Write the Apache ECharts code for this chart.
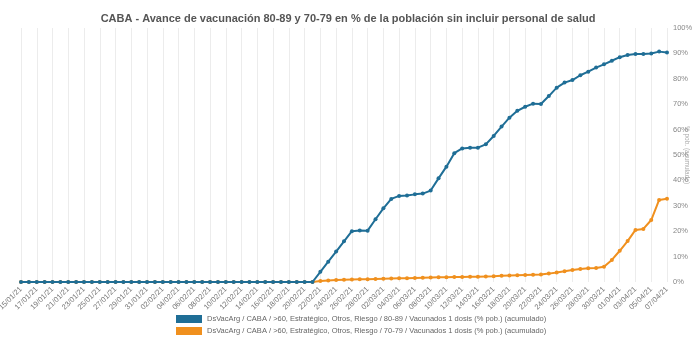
<!DOCTYPE html>
<html><head><meta charset="utf-8">
<script src="https://cdn.jsdelivr.net/npm/echarts@6/dist/echarts.min.js"></script>
<style>html,body{margin:0;padding:0;background:#fff}#c{width:696px;height:348px}</style>
</head><body><div id="c"></div>
<script>
const titleText = "CABA - Avance de vacunación 80-89 y 70-79 en % de la población sin incluir personal de salud";
const dates = [
"15/01/21","16/01/21","17/01/21","18/01/21","19/01/21","20/01/21","21/01/21","22/01/21","23/01/21","24/01/21","25/01/21","26/01/21","27/01/21","28/01/21","29/01/21","30/01/21","31/01/21",
"01/02/21","02/02/21","03/02/21","04/02/21","05/02/21","06/02/21","07/02/21","08/02/21","09/02/21","10/02/21","11/02/21","12/02/21","13/02/21","14/02/21","15/02/21","16/02/21","17/02/21","18/02/21","19/02/21","20/02/21","21/02/21","22/02/21","23/02/21","24/02/21","25/02/21","26/02/21","27/02/21","28/02/21",
"01/03/21","02/03/21","03/03/21","04/03/21","05/03/21","06/03/21","07/03/21","08/03/21","09/03/21","10/03/21","11/03/21","12/03/21","13/03/21","14/03/21","15/03/21","16/03/21","17/03/21","18/03/21","19/03/21","20/03/21","21/03/21","22/03/21","23/03/21","24/03/21","25/03/21","26/03/21","27/03/21","28/03/21","29/03/21","30/03/21","31/03/21",
"01/04/21","02/04/21","03/04/21","04/04/21","05/04/21","06/04/21","07/04/21"];
const name8089 = "DsVacArg / CABA / >60, Estratégico, Otros, Riesgo / 80-89 / Vacunados 1 dosis (% pob.) (acumulado)";
const name7079 = "DsVacArg / CABA / >60, Estratégico, Otros, Riesgo / 70-79 / Vacunados 1 dosis (% pob.) (acumulado)";
const values8089 = [
0,0,0,0,0,0,0,0,0,0,0,0,0,0,0,0,0,0,0,0,0,0,0,0,0,0,0,0,0,0,0,0,0,0,0,0,0,0,
4,8,12,16,20,20.3,20.2,24.7,29,32.7,33.9,34.1,34.5,34.8,36,40.8,45.4,50.7,52.6,52.9,52.9,54.2,57.5,61.2,64.7,67.4,69,70.2,70.1,73.2,76.5,78.5,79.5,81.4,82.8,84.4,85.7,87.1,88.5,89.4,89.8,89.8,90,90.7,90.4];
const values7079 = [
0,0,0,0,0,0,0,0,0,0,0,0,0,0,0,0,0,0,0,0,0,0,0,0,0,0,0,0,0,0,0,0,0,0,0,0,0,0,
0.4,0.6,0.8,0.9,1.0,1.1,1.1,1.2,1.3,1.4,1.5,1.5,1.6,1.7,1.8,1.9,1.9,2.0,2.0,2.1,2.1,2.2,2.3,2.5,2.6,2.7,2.8,2.9,3.0,3.3,3.7,4.2,4.7,5.1,5.4,5.5,6.0,8.7,12.3,16.1,20.5,20.9,24.4,32.3,32.8];
const yAxisName = "% pob. (acumulado)";

const blue = '#1f6e96', orange = '#f0901e';
const chart = echarts.init(document.getElementById('c'), null, {renderer:'canvas'});
chart.setOption({
  animation:false,
  title:{text:titleText,left:'center',top:8,textStyle:{fontSize:11,fontWeight:'bold',color:'#555',fontFamily:'Liberation Sans, Arial, sans-serif'}},
  grid:{left:21,right:29,top:28,bottom:66,containLabel:false,outerBoundsMode:'none'},
  legend:{orient:'vertical',left:176,top:315,padding:0,itemWidth:26,itemHeight:8,itemGap:4,icon:'rect',
    data:[name8089,name7079],
    textStyle:{fontSize:7.5,color:'#666',fontFamily:'Liberation Sans, Arial, sans-serif'}},
  xAxis:{type:'category',data:dates,boundaryGap:false,
    axisLine:{show:false},axisTick:{show:false},
    axisLabel:{interval:1,rotate:45,fontSize:7.5,color:'#777',margin:6,fontFamily:'Liberation Sans, Arial, sans-serif'},
    splitLine:{show:true,interval:1,lineStyle:{color:'#ececec',width:1}}},
  yAxis:{type:'value',position:'right',min:0,max:100,interval:10,
    name:yAxisName,nameLocation:'middle',nameRotate:-90,nameGap:16,nameMoveOverlap:false,
    nameTextStyle:{fontSize:6.5,color:'#aaa'},
    axisLabel:{formatter:'{value}%',fontSize:7.5,color:'#888',margin:6,fontFamily:'Liberation Sans, Arial, sans-serif'},
    axisLine:{show:false},axisTick:{show:false},splitLine:{show:false}},
  series:[
    {name:name8089,type:'line',data:values8089,z:4,symbol:'circle',symbolSize:4,
      lineStyle:{color:blue,width:2},itemStyle:{color:blue}},
    {name:name7079,type:'line',data:values7079,z:3,symbol:'circle',symbolSize:4,
      lineStyle:{color:orange,width:2},itemStyle:{color:orange}}
  ]
});
</script></body></html>
